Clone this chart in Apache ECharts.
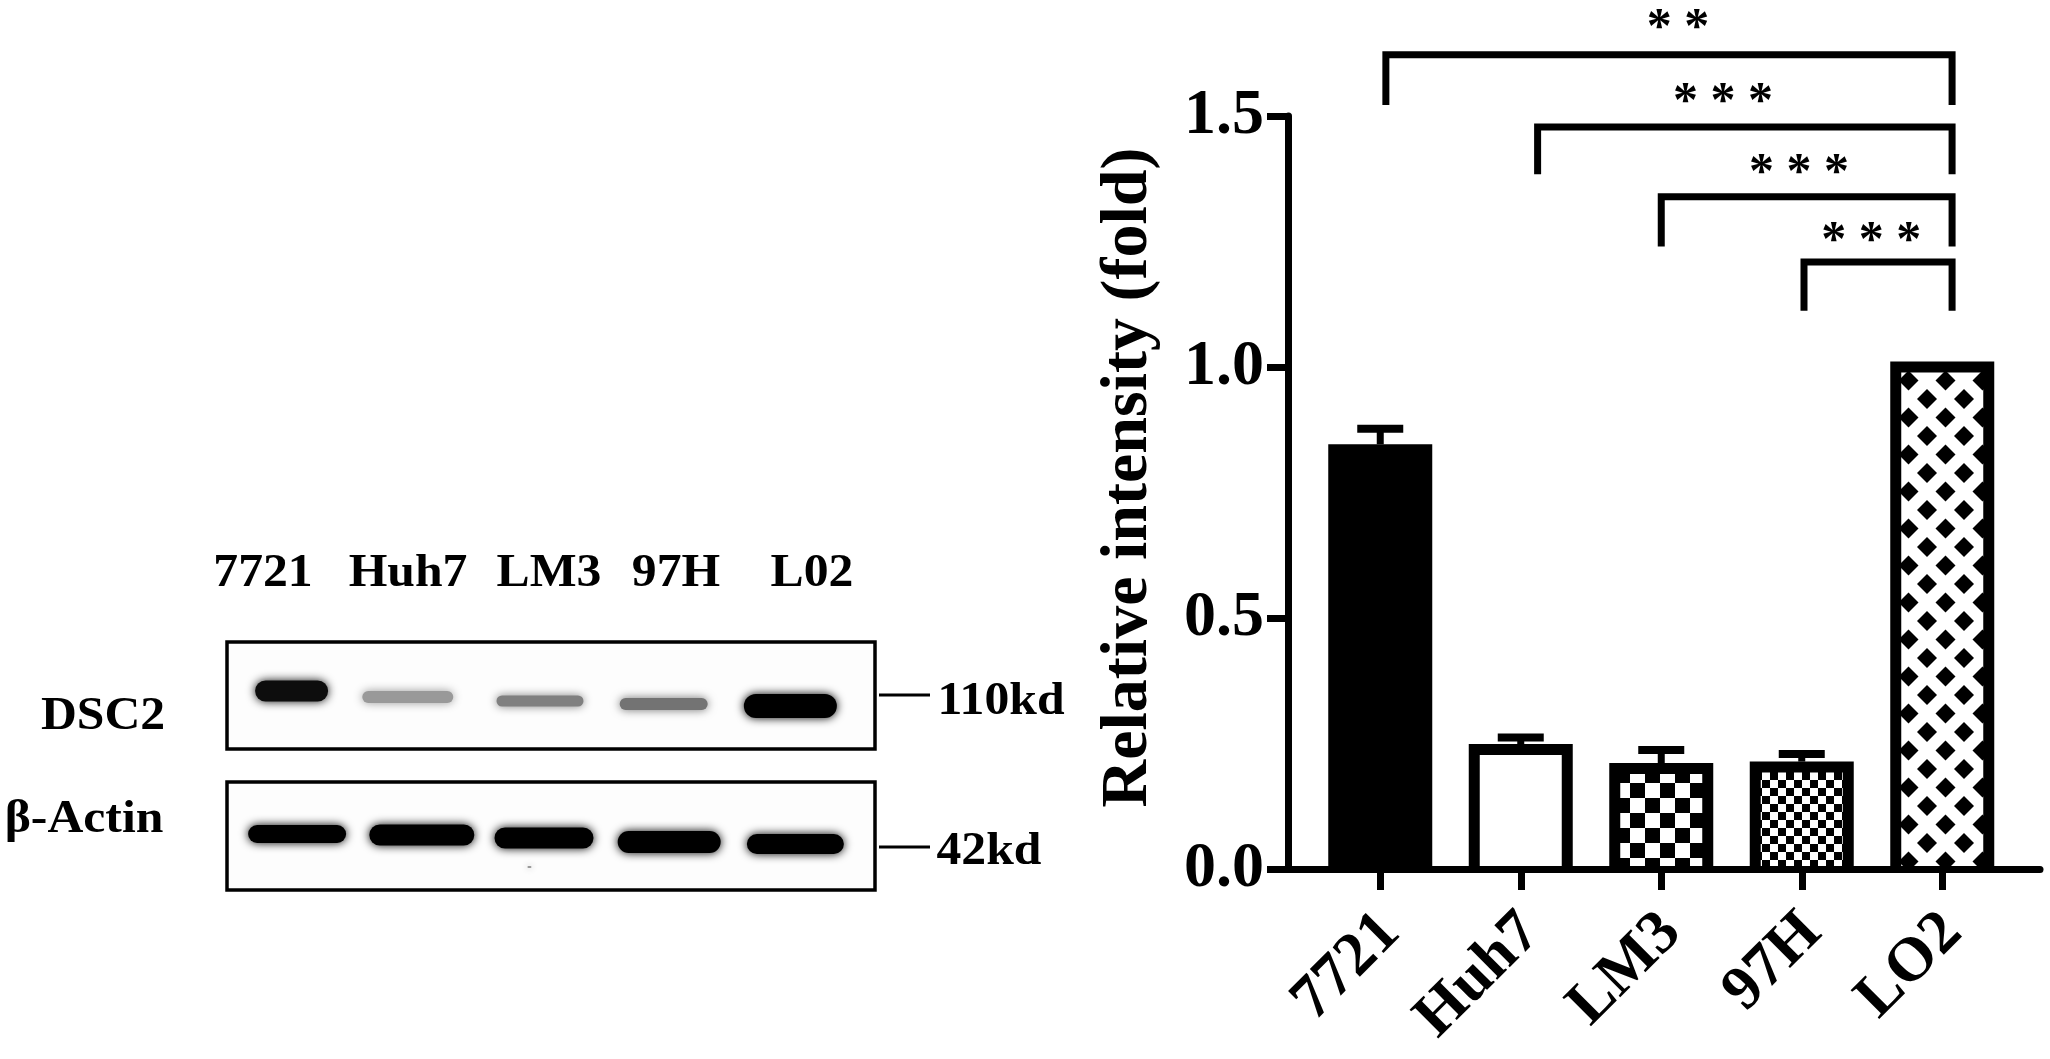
<!DOCTYPE html>
<html><head><meta charset="utf-8">
<style>html,body{margin:0;padding:0;background:#fff}#c{width:2050px;height:1059px}</style>
<script src="https://cdn.jsdelivr.net/npm/echarts@6/dist/echarts.min.js"></script>
</head><body><div id="c"></div>
<script>
// ---- bar chart data
const categories = ['7721','Huh7','LM3','97H','LO2'];
const means = [0.846,0.249,0.211,0.214,1.011];
const errorTops = [0.877,0.262,0.237,0.229,null];
const fills = ['solid','white','check','fine','lattice'];
// significance brackets (x in category units, y in axis units)
const bracketFrom = [0.04,1.12,2.0,3.016];
const bracketTo = [4.07,4.07,4.07,4.07];
const bracketLevel = [1.622,1.478,1.339,1.209];
const bracketFoot = [1.522,1.384,1.24,1.112];
const starText = ['* *','* * *','* * *','* * *'];
const starX = [2.12,2.44,2.98,3.495];
const starY = [1.691,1.543,1.402,1.267];
// ---- western blot data
const laneLabels = ['7721','Huh7','LM3','97H','L02'];
const dscX = [64.5,180.5,312.5,436,562.5];
const dscW = [77,95,91,92,97];
const dscY = [49,55,59,62,64];
const dscH = [25,16,15,16,28];
const dscDark = [0.95,0.4,0.5,0.55,1];
const actinX = [70,194.5,316.5,441.5,567.5,302];
const actinW = [102,109,103,107,101,8];
const actinY = [52,53,56,60,62,85];
const actinH = [22,25,25,26,24,6];
const actinDark = [1,1,1,1,1,0.4];

const FONT = 'Liberation Serif';
function tile(size, draw){
  const c = document.createElement('canvas'); c.width = size; c.height = size;
  const g = c.getContext('2d'); g.fillStyle = '#000'; g.fillRect(0,0,size,size);
  g.fillStyle = '#fff'; draw(g,size); return c;
}
const checkTile = tile(30,(g)=>{g.fillRect(0,0,15,15);g.fillRect(15,15,15,15);});
const fineTile = tile(16,(g)=>{g.fillRect(0,0,8,8);g.fillRect(8,8,8,8);});
const latticeTile = tile(37,(g,s)=>{
  g.fillRect(0,0,s,s); g.fillStyle='#000';
  const d=(x,y)=>{g.beginPath();g.moveTo(x-10,y);g.lineTo(x,y-10);g.lineTo(x+10,y);g.lineTo(x,y+10);g.closePath();g.fill();};
  d(0,0);d(s,0);d(0,s);d(s,s);d(s/2,s/2);
});
const fillStyles = {
  white:'#fff',
  check:{image:checkTile,repeat:'repeat',x:1630,y:768},
  fine:{image:fineTile,repeat:'repeat',x:1762,y:772},
  lattice:{image:latticeTile,repeat:'repeat',x:1927,y:732}
};
function bands(xs,ws,ys,hs,ds,xi,yi){
  return {
    type:'custom',xAxisIndex:xi,yAxisIndex:yi,clip:false,silent:true,
    data:xs.map((x,i)=>[x,ws[i],ys[i],hs[i],ds[i]]),
    renderItem(p,api){
      const c=api.coord([api.value(0),api.value(2)]);
      const w=api.value(1),h=api.value(3);
      const v=Math.round(255*(1-api.value(4)));
      const col='rgb('+v+','+v+','+v+')';
      const blur=Math.min(h,10);
      return {type:'rect',shape:{x:c[0]-w/2+2,y:c[1]-h/2+2,width:w-4,height:h-4,r:(h-4)/2},
        style:{fill:col,shadowBlur:blur,shadowColor:col}};
    }
  };
}
const T=(text,x,y,size,sx)=>({type:'text',x,y,scaleX:sx||1,silent:true,
  style:{text,font:'bold '+size+'px "'+FONT+'"',fill:'#000',align:'center',verticalAlign:'middle'}});
const laneXpx=[263,408,549,676,812];
const L=(x1,x2,y)=>({type:'line',silent:true,shape:{x1,y1:y,x2,y2:y},style:{stroke:'#000',lineWidth:3}});
const Y0=869,PX=502;
const axW=7;
const option={
  animation:false,backgroundColor:'#fff',
  grid:[
    {left:1288,width:752,top:Y0-1.5*PX,height:1.5*PX},
    {left:1310,width:702.5,top:Y0-1.7*PX,height:1.7*PX},
    {left:227,width:648,top:642,height:107,show:true,borderColor:'#000',borderWidth:3.5,backgroundColor:'#fdfdfd'},
    {left:227,width:648,top:782,height:108,show:true,borderColor:'#000',borderWidth:3.5,backgroundColor:'#fdfdfd'}
  ],
  xAxis:[
    {gridIndex:0,type:'value',min:0,max:1,axisLine:{show:true,lineStyle:{color:'#000',width:axW}},axisTick:{show:false},axisLabel:{show:false},splitLine:{show:false}},
    {gridIndex:1,type:'category',data:categories,axisLine:{show:false},
      axisTick:{show:true,alignWithLabel:true,length:21,lineStyle:{color:'#000',width:7}},
      axisLabel:{rotate:45,fontFamily:FONT,fontWeight:'bold',fontSize:62,color:'#000',margin:44,interval:0,verticalAlign:'top',lineHeight:29}},
    {gridIndex:1,type:'value',min:-0.5,max:4.5,show:false},
    {gridIndex:2,type:'value',min:0,max:647,show:false},
    {gridIndex:3,type:'value',min:0,max:647,show:false}
  ],
  yAxis:[
    {gridIndex:0,type:'value',min:0,max:1.5,interval:0.5,
      name:'Relative intensity (fold)',nameLocation:'middle',nameGap:126,nameRotate:90,
      nameTextStyle:{fontFamily:FONT,fontWeight:'bold',fontSize:66,color:'#000',padding:[0,0,0,30]},
      axisLine:{show:true,lineStyle:{color:'#000',width:axW}},
      axisTick:{show:true,length:21,lineStyle:{color:'#000',width:7}},
      axisLabel:{fontFamily:FONT,fontWeight:'bold',fontSize:64,color:'#000',margin:24,formatter:v=>v.toFixed(1)},
      splitLine:{show:false}},
    {gridIndex:1,type:'value',min:0,max:1.7,show:false},
    {gridIndex:2,type:'value',min:0,max:107,inverse:true,show:false},
    {gridIndex:3,type:'value',min:0,max:108,inverse:true,show:false}
  ],
  series:[
    {type:'bar',xAxisIndex:1,yAxisIndex:1,data:means,barWidth:104,itemStyle:{color:'#000'},silent:true},
    {type:'custom',name:'inner',xAxisIndex:2,yAxisIndex:1,silent:true,z:3,
      data:means.map((m,i)=>[i,m]),
      renderItem(p,api){
        const f=fills[api.value(0)];
        if(f==='solid') return null;
        const t=api.coord([api.value(0),api.value(1)]);
        const b=api.coord([api.value(0),0]);
        return {type:'rect',shape:{x:t[0]-41,y:t[1]+11,width:82,height:b[1]-t[1]-11-3},style:{fill:fillStyles[f]}};
      }},
    {type:'custom',name:'error',xAxisIndex:2,yAxisIndex:1,silent:true,z:3,
      data:errorTops.map((e,i)=>[i,means[i],e]).filter(d=>d[2]!==null),
      renderItem(p,api){
        const t=api.coord([api.value(0),api.value(2)]);
        const b=api.coord([api.value(0),api.value(1)]);
        return {type:'group',children:[
          {type:'rect',shape:{x:t[0]-3.5,y:t[1],width:7,height:b[1]-t[1]},style:{fill:'#000'}},
          {type:'rect',shape:{x:t[0]-23,y:t[1]-4,width:46,height:8},style:{fill:'#000'}}
        ]};
      }},
    {type:'custom',name:'brackets',xAxisIndex:2,yAxisIndex:1,silent:true,clip:false,
      data:bracketFrom.map((f,i)=>[f,bracketTo[i],bracketLevel[i],bracketFoot[i]]),
      renderItem(p,api){
        const a=api.coord([api.value(0),api.value(3)]);
        const b=api.coord([api.value(0),api.value(2)]);
        const c=api.coord([api.value(1),api.value(2)]);
        const d=api.coord([api.value(1),api.value(3)]);
        return {type:'polyline',shape:{points:[a,b,c,d]},style:{stroke:'#000',lineWidth:7,fill:null,lineJoin:'miter'}};
      }},
    {type:'custom',name:'stars',xAxisIndex:2,yAxisIndex:1,silent:true,clip:false,
      data:starX.map((x,i)=>[x,starY[i],i]),
      renderItem(p,api){
        const c=api.coord([api.value(0),api.value(1)]);
        return {type:'text',x:c[0],y:c[1]+9,style:{text:starText[api.value(2)],font:'bold 50px "'+FONT+'"',fill:'#000',align:'center',verticalAlign:'middle'}};
      }},
    bands(dscX,dscW,dscY,dscH,dscDark,3,2),
    bands(actinX,actinW,actinY,actinH,actinDark,4,3)
  ],
  graphic:[
    ...laneLabels.map((t,i)=>T(t,laneXpx[i],574,46,1.08)),
    T('DSC2',103,717,46,1.08),
    T('β-Actin',84,820,46,1.08),
    T('110kd',1001,702,46,1.08),
    T('42kd',989,852,46,1.08),
    L(879,930,695),
    L(879,930,847)
  ]
};
echarts.init(document.getElementById('c'),null,{renderer:'canvas'}).setOption(option);
</script></body></html>
